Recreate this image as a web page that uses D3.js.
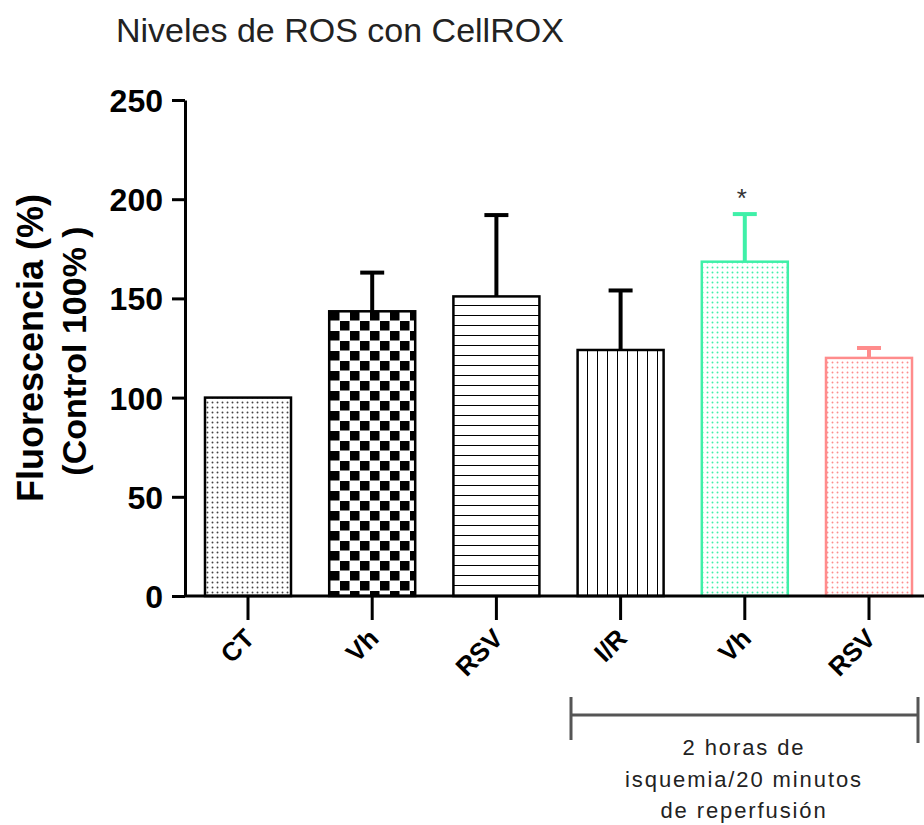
<!DOCTYPE html>
<html><head><meta charset="utf-8">
<script src="https://cdnjs.cloudflare.com/ajax/libs/d3/7.8.5/d3.min.js"></script>
<style>body{margin:0;background:#fff}svg{display:block}</style>
</head><body>
<svg id="c" width="924" height="825"></svg>
<script>
const categories = ["CT","Vh","RSV","I/R","Vh","RSV"];
const means = [100, 143.5, 151, 124, 168.5, 120];
const sems = [0, 19.5, 41, 30, 24, 5];
const yTicks = [0,50,100,150,200,250];
const colors = ["#000","#000","#000","#000","#3ff0a8","#ff8c8c"];
const patterns = ["dots","check","hlines","vlines","dotsG","dotsP"];
const bracketLines = ["2 horas de","isquemia/20 minutos","de reperfusión"];

const FONT = "Liberation Sans, Arial, sans-serif";
const svg = d3.select("#c");
const defs = svg.append("defs");
function dotPat(id, col){
  const p = defs.append("pattern").attr("id",id).attr("patternUnits","userSpaceOnUse").attr("width",10).attr("height",10);
  [[2.5,2.5],[7.5,7.5],[2.5,7.5],[7.5,2.5]].forEach(([x,y])=>p.append("circle").attr("cx",x).attr("cy",y).attr("r",0.95).attr("fill",col));
}
dotPat("dots","#444"); dotPat("dotsG","#3ff0a8"); dotPat("dotsP","#ff8c8c");
const ck = defs.append("pattern").attr("id","check").attr("patternUnits","userSpaceOnUse").attr("width",20).attr("height",20).attr("x",330).attr("y",311);
ck.append("rect").attr("width",20).attr("height",20).attr("fill","#fff");
ck.append("rect").attr("x",0).attr("y",0).attr("width",9.5).attr("height",9.5).attr("fill","#000");
ck.append("rect").attr("x",10).attr("y",10).attr("width",9.5).attr("height",9.5).attr("fill","#000");
const hl = defs.append("pattern").attr("id","hlines").attr("patternUnits","userSpaceOnUse").attr("width",10).attr("height",10).attr("y",296);
hl.append("rect").attr("width",10).attr("height",10).attr("fill","#fff");
hl.append("rect").attr("y",9).attr("width",10).attr("height",2).attr("fill","#000");
const vl = defs.append("pattern").attr("id","vlines").attr("patternUnits","userSpaceOnUse").attr("width",10).attr("height",10).attr("x",578);
vl.append("rect").attr("width",10).attr("height",10).attr("fill","#fff");
vl.append("rect").attr("x",9).attr("width",2).attr("height",10).attr("fill","#000");

const x = d3.scalePoint().domain(d3.range(categories.length)).range([248, 869]);
const y = d3.scaleLinear().domain([0,250]).range([596,100]);

// bars
const bw = 86;
const g = svg.append("g");
means.forEach((m,i)=>{
  const c = x(i);
  if (sems[i]>0){
    g.append("line").attr("x1",c).attr("x2",c).attr("y1",y(m)).attr("y2",y(m+sems[i])).attr("stroke",colors[i]).attr("stroke-width",4);
    g.append("line").attr("x1",c-12).attr("x2",c+12).attr("y1",y(m+sems[i])).attr("y2",y(m+sems[i])).attr("stroke",colors[i]).attr("stroke-width",4);
  }
  g.append("rect").attr("x",c-bw/2).attr("y",y(m)).attr("width",bw).attr("height",y(0)-y(m))
    .attr("fill","url(#"+patterns[i]+")").attr("stroke",colors[i]).attr("stroke-width",2.5);
});

// asterisk
svg.append("text").attr("x",x(4)-3).attr("y",y(means[4]+sems[4])-7).attr("text-anchor","middle")
  .attr("font-family",FONT).attr("font-size",26).attr("fill","#333").text("*");

// y axis
const yAx = svg.append("g").attr("transform","translate(185,0)")
  .call(d3.axisLeft(y).tickValues(yTicks).tickSize(13).tickPadding(9).tickSizeOuter(0));
yAx.select(".domain").attr("stroke","#000").attr("stroke-width",3);
yAx.selectAll(".tick line").attr("stroke","#000").attr("stroke-width",3);
yAx.selectAll(".tick text").attr("font-family",FONT).attr("font-weight","bold").attr("font-size",32).attr("fill","#000").attr("dy","0.36em");

// x axis
svg.append("line").attr("x1",184).attr("x2",924).attr("y1",596).attr("y2",596).attr("stroke","#000").attr("stroke-width",3);
categories.forEach((c,i)=>{
  svg.append("line").attr("x1",x(i)).attr("x2",x(i)).attr("y1",596).attr("y2",620).attr("stroke","#000").attr("stroke-width",3);
  svg.append("text").attr("transform",`translate(${x(i)+8},${640}) rotate(-45)`).attr("text-anchor","end")
    .attr("font-family",FONT).attr("font-weight","bold").attr("font-size",26).attr("fill","#000").text(c);
});

// bracket
const bc = "#555";
svg.append("line").attr("x1",571).attr("x2",918).attr("y1",715).attr("y2",715).attr("stroke",bc).attr("stroke-width",3);
svg.append("line").attr("x1",571).attr("x2",571).attr("y1",697).attr("y2",740).attr("stroke",bc).attr("stroke-width",3);
svg.append("line").attr("x1",918).attr("x2",918).attr("y1",697).attr("y2",743).attr("stroke",bc).attr("stroke-width",3);
bracketLines.forEach((t,k)=>{
  svg.append("text").attr("x",744).attr("y",755+k*31.5).attr("text-anchor","middle")
    .attr("font-family",FONT).attr("font-size",22).attr("letter-spacing",1.9).attr("fill","#222").text(t);
});

// y label
const yl = svg.append("text").attr("transform","rotate(-90)").attr("text-anchor","middle")
  .attr("font-family",FONT).attr("font-weight","bold").attr("fill","#000");
yl.append("tspan").attr("x",-348).attr("y",43).attr("font-size",36).text("Fluorescencia (%)");
yl.append("tspan").attr("x",-351).attr("y",86).attr("font-size",34).text("(Control 100% )");

// title
svg.append("text").attr("x",116).attr("y",42).attr("font-family",FONT).attr("font-size",34).attr("fill","#222").text("Niveles de ROS con CellROX");
</script>
</body></html>
